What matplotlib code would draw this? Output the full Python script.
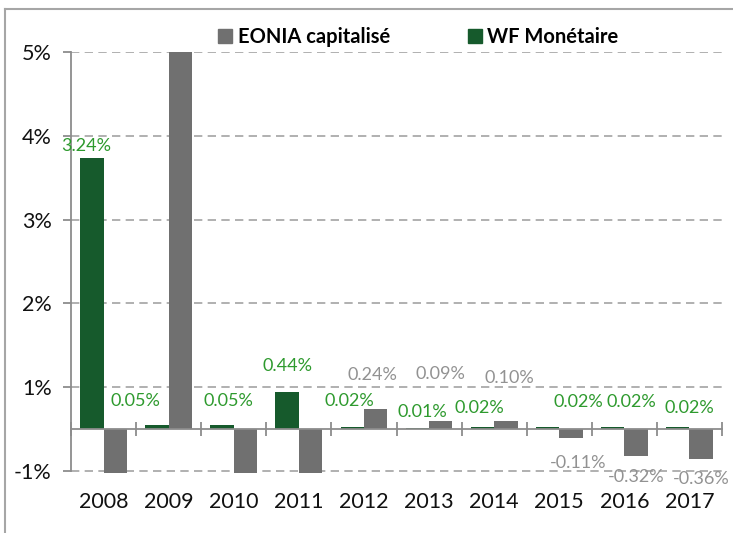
import matplotlib
matplotlib.use("Agg")
from matplotlib import pyplot as plt
from matplotlib.patches import Patch
from matplotlib.lines import Line2D
import numpy as np

# data
years = ['2008', '2009', '2010', '2011', '2012', '2013', '2014', '2015', '2016', '2017']
wf_monetaire = [3.24, 0.05, 0.05, 0.44, 0.02, 0.01, 0.02, 0.02, 0.02, 0.02]
eonia = [-1.0, 5.0, -1.0, -1.0, 0.24, 0.09, 0.10, -0.11, -0.32, -0.36]
wf_labels = ['3.24%', '0.05%', '0.05%', '0.44%', '0.02%', '0.01%', '0.02%', '0.02%', '0.02%', '0.02%']
eonia_labels = [None, None, None, None, '0.24%', '0.09%', '0.10%', '-0.11%', '-0.32%', '-0.36%']
ytick_pos = [-0.5, 0.5, 1.5, 2.5, 3.5, 4.5]
ytick_labels = ['-1%', '1%', '2%', '3%', '4%', '5%']

# label nudges in pixels (dx, dy from bar end)
wf_offsets = [(-6, 12), (-21, 24), (6, 24), (0, 26), (-3, 26), (5, 16), (-3, 19), (31, 25), (19, 25), (12, 19)]
eonia_offsets = [None, None, None, None, (-3, 34), (0, 47), (4, 43), (7, -25), (0, -21), (0, -20)]

green = '#165a2c'
grey = '#707070'
green_txt = '#2e9a2e'
grey_txt = '#929292'
axis_col = '#8c8c8c'

plt.rcParams['font.family'] = ['Lato', 'DejaVu Sans']

fig = plt.figure(figsize=(7.33, 5.33), dpi=100)
ax = fig.add_axes([71 / 733, 1 - 473 / 533, 651 / 733, 421 / 533])

x = np.arange(len(years))
w = 0.36
b_wf = ax.bar(x - w / 2, wf_monetaire, w, color=green, zorder=2)
b_eo = ax.bar(x + w / 2, eonia, w, color=grey, zorder=2)

ax.set_xlim(-0.5, len(years) - 0.5)
ax.set_ylim(-0.525, 4.5)

# gridlines
ax.set_yticks(ytick_pos)
ax.set_yticklabels(ytick_labels)
ax.yaxis.grid(True, color='#a3a3a3', linestyle=(0, (5, 3.2)), linewidth=1.2)
ax.set_axisbelow(True)

for s in ['top', 'right']:
    ax.spines[s].set_visible(False)
ax.spines['left'].set_color(axis_col)
ax.spines['left'].set_linewidth(1.3)
ax.spines['left'].set_bounds(-0.5, 4.5)
ax.spines['bottom'].set_position(('data', 0))
ax.spines['bottom'].set_color(axis_col)
ax.spines['bottom'].set_linewidth(1.3)

ax.tick_params(axis='y', length=6, width=1.3, color=axis_col, pad=8,
               labelsize=15.5, labelcolor='#111111')
ax.set_xticks(x)
ax.set_xticklabels(years)
ax.set_xticks(np.arange(len(years) + 1) - 0.5, minor=True)
ax.tick_params(axis='x', which='major', length=0, pad=45, labelsize=15.5, labelcolor='#111111')
ax.tick_params(axis='x', which='minor', direction='inout', length=10, width=1.3, color=axis_col)

# data labels
for bar, lab, off in zip(b_wf, wf_labels, wf_offsets):
    ax.annotate(lab, (bar.get_x() + bar.get_width() / 2, bar.get_height()),
                xytext=off, textcoords='offset pixels', ha='center', va='center',
                fontsize=13, color=green_txt)
for bar, lab, off in zip(b_eo, eonia_labels, eonia_offsets):
    if lab is None:
        continue
    ax.annotate(lab, (bar.get_x() + bar.get_width() / 2, bar.get_height()),
                xytext=off, textcoords='offset pixels', ha='center', va='center',
                fontsize=13, color=grey_txt)

# legend
handles = [Patch(color=grey), Patch(color=green)]
fig.legend(handles, ['EONIA capitalisé', 'WF Monétaire'], loc='center',
           bbox_to_anchor=(0.571, 1 - 37 / 533), ncol=2, frameon=False,
           prop={'weight': 'bold', 'size': 14.5}, handlelength=0.7, handleheight=0.7,
           handletextpad=0.25, columnspacing=3.9)

# outer frame (top and left edges only visible)
fig.add_artist(Line2D([4.5 / 733, 1], [1 - 9 / 533, 1 - 9 / 533], color='#a6a6a6', lw=1.5))
fig.add_artist(Line2D([4.5 / 733, 4.5 / 733], [0, 1 - 9 / 533], color='#a6a6a6', lw=1.5))

plt.savefig('out.png', dpi=100)
